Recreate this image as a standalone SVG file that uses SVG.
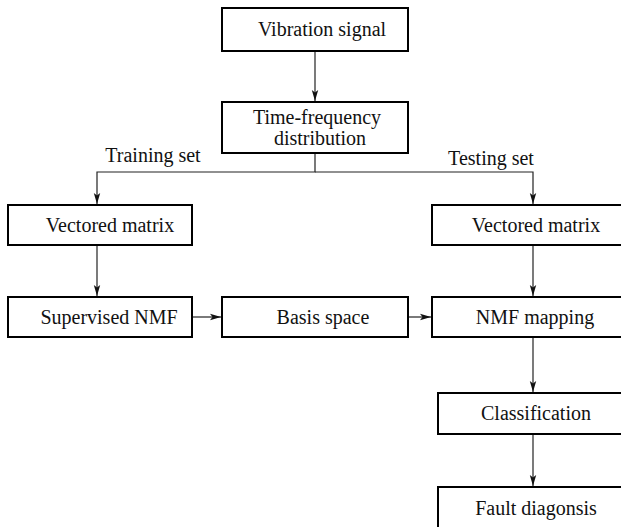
<svg xmlns="http://www.w3.org/2000/svg" width="621" height="527" viewBox="0 0 621 527">
<style>
.box{fill:#fff;stroke:#000;stroke-width:2}
.t{font-family:"Liberation Serif","Times New Roman",serif;font-size:20px;fill:#111;text-anchor:middle}
.c{fill:none;stroke:#222;stroke-width:1.2}
</style>
<defs>
<marker id="ah" markerWidth="12" markerHeight="8" refX="11" refY="4" orient="auto" markerUnits="userSpaceOnUse">
<path d="M0,0.8 L11,4 L0,7.2 L2.5,4 Z" fill="#111"/>
</marker>
</defs>
<rect width="621" height="527" fill="#fff"/>
<g id="connectors">
<line class="c" x1="315" y1="51" x2="315" y2="101" marker-end="url(#ah)"/>
<polyline class="c" points="315,153 315,172 97,172 97,204" marker-end="url(#ah)"/>
<polyline class="c" points="315,172 533,172 533,204" marker-end="url(#ah)"/>
<line class="c" x1="97" y1="245" x2="97" y2="296" marker-end="url(#ah)"/>
<line class="c" x1="533" y1="245" x2="533" y2="296" marker-end="url(#ah)"/>
<line class="c" x1="192" y1="317" x2="221" y2="317" marker-end="url(#ah)"/>
<line class="c" x1="408" y1="317" x2="431" y2="317" marker-end="url(#ah)"/>
<line class="c" x1="533" y1="337" x2="533" y2="392" marker-end="url(#ah)"/>
<line class="c" x1="533" y1="434" x2="533" y2="486" marker-end="url(#ah)"/>
<text class="t" x="153" y="162">Training set</text>
<text class="t" x="491" y="165">Testing set</text>
</g>
<g id="vibration"><rect class="box" x="222" y="8" width="186" height="43"/><text class="t" x="322" y="36">Vibration signal</text></g>
<g id="tfd"><rect class="box" x="222" y="102" width="186" height="51"/><text class="t" x="317" y="124">Time-frequency</text><text class="t" x="320" y="145">distribution</text></g>
<g id="vm-left"><rect class="box" x="8" y="205" width="184" height="40"/><text class="t" x="110" y="232">Vectored matrix</text></g>
<g id="vm-right"><rect class="box" x="432" y="205" width="190" height="40"/><text class="t" x="536" y="232">Vectored matrix</text></g>
<g id="snmf"><rect class="box" x="8" y="297" width="184" height="40"/><text class="t" x="109" y="324">Supervised NMF</text></g>
<g id="basis"><rect class="box" x="222" y="297" width="186" height="40"/><text class="t" x="323" y="324">Basis space</text></g>
<g id="nmfmap"><rect class="box" x="432" y="297" width="190" height="40"/><text class="t" x="535" y="324">NMF mapping</text></g>
<g id="class"><rect class="box" x="438" y="393" width="184" height="41"/><text class="t" x="536" y="420">Classification</text></g>
<g id="fault"><rect class="box" x="438" y="487" width="184" height="42"/><text class="t" x="536" y="515">Fault diagonsis</text></g>
</svg>
